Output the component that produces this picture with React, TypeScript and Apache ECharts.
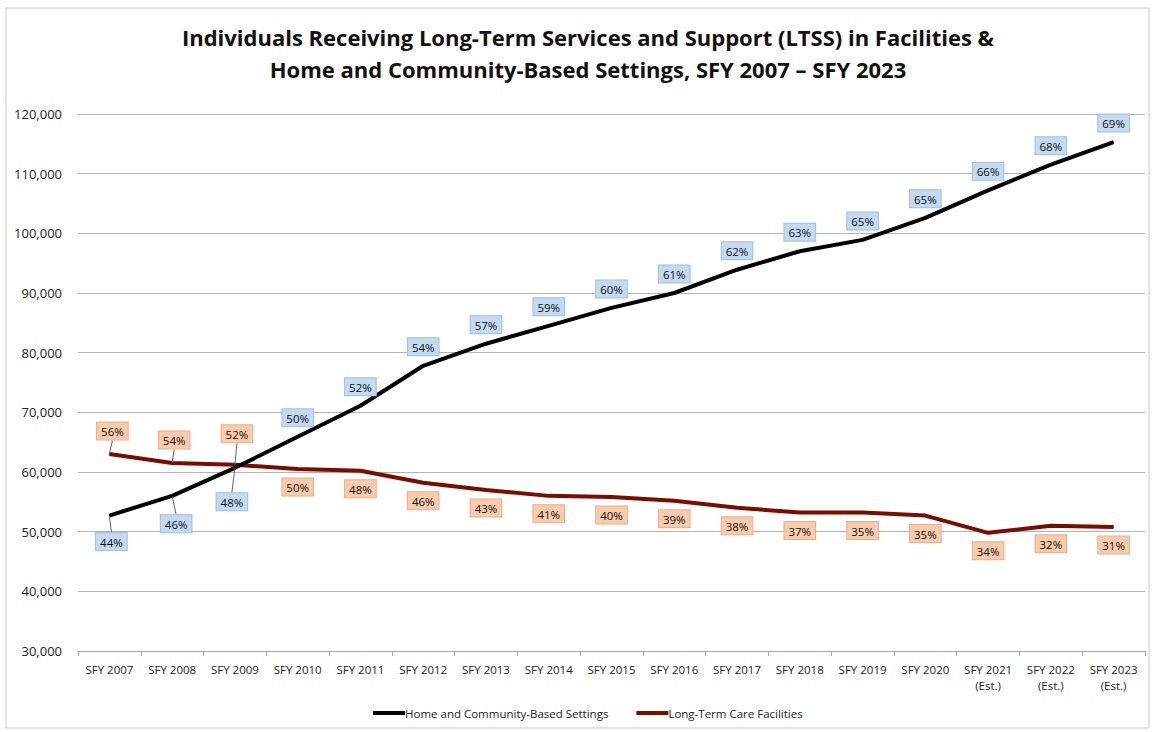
import React, { useEffect, useRef } from "react";
import * as echarts from "echarts";

const categories = [
  "SFY 2007", "SFY 2008", "SFY 2009", "SFY 2010", "SFY 2011", "SFY 2012",
  "SFY 2013", "SFY 2014", "SFY 2015", "SFY 2016", "SFY 2017", "SFY 2018",
  "SFY 2019", "SFY 2020", "SFY 2021\n(Est.)", "SFY 2022\n(Est.)", "SFY 2023\n(Est.)",
];

const hcbsValues = [
  52700, 56000, 60700, 65900, 71100, 77800, 81500, 84500, 87500, 90000,
  93900, 97000, 98900, 102600, 107200, 111500, 115300,
];
const hcbsPct = [
  "44%", "46%", "48%", "50%", "52%", "54%", "57%", "59%", "60%", "61%",
  "62%", "63%", "65%", "65%", "66%", "68%", "69%",
];

const ltcValues = [
  63000, 61500, 61200, 60500, 60200, 58200, 57000, 56000, 55800, 55200,
  54000, 53200, 53200, 52700, 49800, 51000, 50800,
];
const ltcPct = [
  "56%", "54%", "52%", "50%", "48%", "46%", "43%", "41%", "40%", "39%",
  "38%", "37%", "35%", "35%", "34%", "32%", "31%",
];

const yTicks = { min: 30000, max: 120000, interval: 10000 };

const FONT = "'Open Sans', 'Noto Sans', sans-serif";

const blueBox = {
  color: "#111",
  fontSize: 11.5,
  fontFamily: FONT,
  backgroundColor: "#c4daf0",
  borderColor: "#9ec0e0",
  borderWidth: 1,
  padding: [3, 4, 2, 4],
};
const peachBox = {
  color: "#111",
  fontSize: 11.5,
  fontFamily: FONT,
  backgroundColor: "#f8cbad",
  borderColor: "#e8b08c",
  borderWidth: 1,
  padding: [3, 4, 2, 4],
};

// extra shifts (px) for the first three labels, which carry leader lines
const hcbsShift = [[2, 12], [4, 14], [-3, 20]];
const ltcShift = [[3, -8], [2, -8], [2, -16]];

export default function App() {
  const ref = useRef<HTMLDivElement>(null);

  useEffect(() => {
    if (!ref.current) return;
    const chart = echarts.init(ref.current, null, { renderer: "svg" });

    const hcbsData = hcbsValues.map((v, i) => ({
      value: v,
      label: {
        show: true,
        position: i < 3 ? "bottom" : "top",
        distance: i < 3 ? 5 : 10,
        formatter: hcbsPct[i],
        ...blueBox,
      },
      labelLine: { show: i < 3, lineStyle: { color: "#666", width: 1 } },
    }));
    const ltcData = ltcValues.map((v, i) => ({
      value: v,
      label: {
        show: true,
        position: i < 3 ? "top" : "bottom",
        distance: i < 3 ? 6 : 9,
        formatter: ltcPct[i],
        ...peachBox,
      },
      labelLine: { show: i < 3, lineStyle: { color: "#666", width: 1 } },
    }));

    chart.setOption({
      animation: false,
      backgroundColor: "#ffffff",
      title: {
        text: "Individuals Receiving Long-Term Services and Support (LTSS) in Facilities &\nHome and Community-Based Settings, SFY 2007 \u2013 SFY 2023",
        left: 583,
        top: 16,
        textAlign: "center",
        textStyle: {
          fontFamily: FONT,
          fontWeight: "bold",
          fontSize: 22,
          lineHeight: 32,
          color: "#111",
        },
      },
      graphic: [
        {
          type: "rect",
          shape: { x: 6, y: 8, width: 1143, height: 720 },
          style: { fill: "none", stroke: "#c8c8c8", lineWidth: 1 },
          silent: true,
        },
      ],
      legend: {
        bottom: 8,
        left: 368,
        itemWidth: 32,
        itemHeight: 4,
        itemGap: 28,
        icon: "rect",
        textStyle: { fontFamily: FONT, fontSize: 11.5, color: "#222", padding: [0, 0, 0, -5] },
        data: ["Home and Community-Based Settings", "Long-Term Care Facilities"],
      },
      grid: { left: 78, right: 7, top: 114, bottom: 81 },
      xAxis: {
        type: "category",
        data: categories,
        boundaryGap: true,
        axisLine: { lineStyle: { color: "#a6a6a6" } },
        axisTick: { show: true, length: 5, lineStyle: { color: "#a6a6a6" } },
        axisLabel: {
          interval: 0,
          fontFamily: FONT,
          fontSize: 11.5,
          color: "#222",
          margin: 10,
          lineHeight: 16,
        },
      },
      yAxis: {
        type: "value",
        min: yTicks.min,
        max: yTicks.max,
        interval: yTicks.interval,
        axisLine: { show: false },
        axisTick: { show: false },
        splitLine: { lineStyle: { color: "#b4b4b4" } },
        axisLabel: {
          fontFamily: FONT,
          fontSize: 13,
          color: "#222",
          margin: 16,
          formatter: (v: number) => v.toLocaleString("en-US"),
        },
      },
      series: [
        {
          name: "Home and Community-Based Settings",
          type: "line",
          data: hcbsData,
          symbol: "circle",
          symbolSize: 1,
          showSymbol: true,
          lineStyle: { color: "#000000", width: 4 },
          itemStyle: { color: "#000000" },
          labelLayout: (p: any) =>
            p.dataIndex < 3 ? { dx: hcbsShift[p.dataIndex][0], dy: hcbsShift[p.dataIndex][1] } : {},
          z: 3,
        },
        {
          name: "Long-Term Care Facilities",
          type: "line",
          data: ltcData,
          symbol: "circle",
          symbolSize: 1,
          showSymbol: true,
          lineStyle: { color: "#7a0c00", width: 4 },
          itemStyle: { color: "#7a0c00" },
          labelLayout: (p: any) =>
            p.dataIndex < 3 ? { dx: ltcShift[p.dataIndex][0], dy: ltcShift[p.dataIndex][1] } : {},
          z: 2,
        },
      ],
    });

    return () => chart.dispose();
  }, []);

  return <div ref={ref} style={{ width: 1152, height: 732, position: "absolute", left: 0, top: 0 }} />;
}
